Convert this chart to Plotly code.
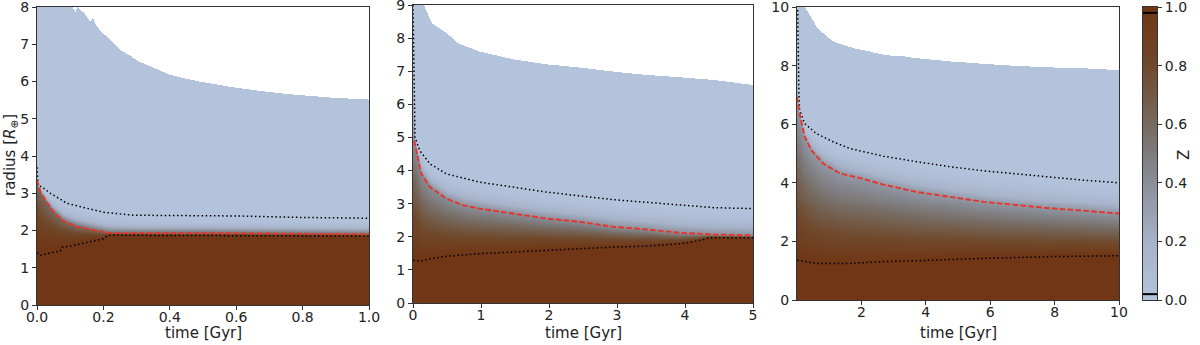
import numpy as np
import plotly.graph_objects as go

# ---------------- data ----------------
# Panel 1 (0 - 1 Gyr)
p1_t_outer = [0.0, 0.10, 0.105, 0.115, 0.12, 0.125, 0.15, 0.16, 0.17, 0.175, 0.19, 0.25, 0.31, 0.40, 0.49, 0.59, 0.69, 0.79, 0.89, 1.0]
p1_r_outer = [9.0, 8.3, 8.0, 7.85, 8.0, 7.95, 7.75, 7.6, 7.7, 7.55, 7.37, 6.84, 6.52, 6.17, 5.99, 5.84, 5.72, 5.63, 5.56, 5.51]
p1_t_top = [0.0, 0.003, 0.015, 0.04, 0.07, 0.09, 0.14, 0.20, 0.29, 0.40, 0.60, 0.80, 1.0]
p1_r_top = [3.7, 3.2, 3.17, 3.0, 2.84, 2.73, 2.62, 2.49, 2.41, 2.40, 2.39, 2.35, 2.33]
p1_t_red = [0.0, 0.01, 0.03, 0.05, 0.08, 0.12, 0.20, 0.22, 0.50, 1.0]
p1_r_red = [3.35, 3.05, 2.75, 2.5, 2.25, 2.1, 1.96, 1.93, 1.93, 1.9]
p1_t_bot = [0.0, 0.01, 0.04, 0.07, 0.075, 0.10, 0.15, 0.20, 0.215, 0.30, 1.0]
p1_r_bot = [1.4, 1.33, 1.4, 1.45, 1.55, 1.58, 1.68, 1.78, 1.88, 1.87, 1.85]

# Panel 2 (0 - 5 Gyr)
p2_t_outer = [0.0, 0.15, 0.27, 0.49, 0.66, 0.98, 1.47, 1.96, 2.46, 2.95, 3.44, 3.93, 4.42, 5.0]
p2_r_outer = [9.5, 9.0, 8.44, 8.14, 7.83, 7.58, 7.35, 7.2, 7.1, 6.98, 6.88, 6.81, 6.73, 6.58]
p2_t_top = [0.0, 0.01, 0.02, 0.03, 0.10, 0.25, 0.49, 0.98, 1.47, 1.96, 2.95, 3.93, 4.42, 5.0]
p2_r_top = [9.0, 8.0, 6.0, 5.0, 4.6, 4.2, 3.9, 3.65, 3.5, 3.35, 3.12, 2.95, 2.88, 2.85]
p2_t_red = [0.015, 0.05, 0.12, 0.25, 0.49, 0.74, 0.98, 1.47, 1.96, 2.46, 2.95, 3.44, 3.93, 4.42, 5.0]
p2_r_red = [4.9, 4.6, 3.9, 3.5, 3.15, 2.95, 2.85, 2.7, 2.55, 2.45, 2.3, 2.22, 2.12, 2.07, 2.04]
p2_t_bot = [0.0, 0.10, 0.25, 0.49, 0.98, 1.47, 1.96, 2.46, 2.95, 3.44, 3.93, 4.17, 4.37, 5.0]
p2_r_bot = [1.29, 1.26, 1.34, 1.41, 1.49, 1.54, 1.61, 1.64, 1.69, 1.72, 1.79, 1.87, 1.97, 1.97]

# Panel 3 (0 - 10 Gyr)
p3_t_outer = [0.0, 0.24, 0.6, 1.07, 1.64, 2.68, 3.71, 4.75, 5.79, 6.83, 7.86, 8.9, 10.0]
p3_r_outer = [10.5, 10.0, 9.32, 8.86, 8.64, 8.39, 8.24, 8.13, 8.05, 7.98, 7.93, 7.9, 7.84]
p3_t_top = [0.02, 0.04, 0.06, 0.08, 0.24, 0.6, 1.12, 1.64, 2.68, 3.71, 4.75, 5.79, 6.83, 7.86, 8.9, 10.0]
p3_r_top = [9.9, 8.0, 7.0, 6.48, 6.02, 5.68, 5.4, 5.17, 4.91, 4.72, 4.55, 4.41, 4.3, 4.2, 4.09, 4.0]
p3_t_red = [0.0, 0.08, 0.24, 0.45, 0.81, 1.33, 2.0, 2.68, 3.71, 4.75, 5.79, 6.83, 7.86, 8.9, 10.0]
p3_r_red = [6.93, 6.36, 5.57, 5.11, 4.66, 4.32, 4.15, 3.94, 3.69, 3.52, 3.35, 3.24, 3.13, 3.05, 2.95]
p3_t_bot = [0.0, 0.6, 1.64, 2.68, 3.71, 4.75, 5.79, 6.83, 7.86, 10.0]
p3_r_bot = [1.36, 1.25, 1.25, 1.31, 1.34, 1.39, 1.42, 1.45, 1.48, 1.51]

# colorbar contour levels and ticks
cbar_levels = [0.02, 0.98]
cbar_ticks = [0.0, 0.2, 0.4, 0.6, 0.8, 1.0]

# ---------------- styling ----------------
COLORSCALE = [
    [0.0, "rgb(179,195,220)"],
    [0.2, "rgb(166,178,200)"],
    [0.45, "rgb(132,133,140)"],
    [0.6, "rgb(118,106,96)"],
    [0.8, "rgb(112,73,43)"],
    [1.0, "rgb(112,54,21)"],
]
FONT = "DejaVu Sans"
TXT = "#222222"
DOT = "1.5px,2.6px"
DASH = "5.5px,2.4px"

panels = [
    dict(to=p1_t_outer, ro=p1_r_outer, tt=p1_t_top, rt=p1_r_top, tr=p1_t_red, rr=p1_r_red,
         tb=p1_t_bot, rb=p1_r_bot, xr=[0, 1.0], yr=[0, 8], zr=0.6, p=1.5, q=2.5,
         xt=[0, 0.2, 0.4, 0.6, 0.8, 1.0], xtt=["0.0", "0.2", "0.4", "0.6", "0.8", "1.0"],
         yt=list(range(0, 9)), xd=[37/1200, 369/1200], yd=[40/345, 338/345]),
    dict(to=p2_t_outer, ro=p2_r_outer, tt=p2_t_top, rt=p2_r_top, tr=p2_t_red, rr=p2_r_red,
         tb=p2_t_bot, rb=p2_r_bot, xr=[0, 5.0], yr=[0, 9], zr=0.4, p=1.1, q=2.0,
         xt=[0, 1, 2, 3, 4, 5], xtt=["0", "1", "2", "3", "4", "5"],
         yt=list(range(0, 10)), xd=[413/1200, 753/1200], yd=[42/345, 340/345]),
    dict(to=p3_t_outer, ro=p3_r_outer, tt=p3_t_top, rt=p3_r_top, tr=p3_t_red, rr=p3_r_red,
         tb=p3_t_bot, rb=p3_r_bot, xr=[0, 10.0], yr=[0, 10], zr=0.35, p=1.0, q=2.0,
         xt=[2, 4, 6, 8, 10], xtt=["2", "4", "6", "8", "10"],
         yt=[0, 2, 4, 6, 8, 10], xd=[797/1200, 1119/1200], yd=[45/345, 338/345]),
]

fig = go.Figure()
annotations = []

for i, P in enumerate(panels):
    ax = "" if i == 0 else str(i + 1)
    xa, ya = "x" + ax, "y" + ax
    nx, ny = 340, 300
    x0, x1 = P["xr"]
    tg = np.linspace(x0, x1, nx)
    rg = np.linspace(P["yr"][0], P["yr"][1], ny)
    O = np.interp(tg, P["to"], P["ro"])
    T = np.interp(tg, P["tt"], P["rt"])
    Rd = np.interp(tg, P["tr"], P["rr"])
    B = np.interp(tg, P["tb"], P["rb"])
    R = rg[:, None]
    u = np.clip((R - B) / np.maximum(Rd - B, 1e-3), 0, 1)
    v = np.clip((R - Rd) / np.maximum(T - Rd, 1e-3), 0, 1)
    zlow = 1 - (1 - P["zr"]) * u ** P["p"]
    zhigh = P["zr"] * (1 - v) ** P["q"]
    Z = np.where(R <= Rd, zlow, zhigh)
    Z = np.where(R > O, np.nan, Z)
    Z = np.round(Z, 3)
    fig.add_trace(go.Heatmap(x=tg, y=rg, z=Z, colorscale=COLORSCALE, zmin=0, zmax=1,
                             showscale=False, hoverinfo="skip", xaxis=xa, yaxis=ya))
    fig.add_trace(go.Scatter(x=P["tt"], y=P["rt"], mode="lines",
                             line=dict(color="black", width=1.5, dash=DOT),
                             xaxis=xa, yaxis=ya, showlegend=False))
    fig.add_trace(go.Scatter(x=P["tb"], y=P["rb"], mode="lines",
                             line=dict(color="black", width=1.5, dash=DOT),
                             xaxis=xa, yaxis=ya, showlegend=False))
    fig.add_trace(go.Scatter(x=P["tr"], y=P["rr"], mode="lines",
                             line=dict(color="#e8332a", width=1.9, dash=DASH),
                             xaxis=xa, yaxis=ya, showlegend=False))
    axis_common = dict(showline=True, linecolor="#333333", linewidth=1, mirror=True,
                       ticks="outside", ticklen=4, tickcolor="#333333", showgrid=False,
                       zeroline=False, ticklabeloverflow="allow", automargin=False,
                       tickfont=dict(family=FONT, size=14, color=TXT))
    fig.update_layout(**{
        "xaxis" + ax: dict(domain=P["xd"], range=P["xr"], tickvals=P["xt"], ticktext=P["xtt"],
                           anchor=ya, ticklabelstandoff=-5, **axis_common),
        "yaxis" + ax: dict(domain=P["yd"], range=P["yr"], tickvals=P["yt"], anchor=xa,
                           **axis_common),
    })
    annotations.append(dict(text="time [Gyr]", x=(P["xd"][0] + P["xd"][1]) / 2, y=12/345,
                            xref="paper", yref="paper", xanchor="center", yanchor="middle",
                            showarrow=False, font=dict(family=FONT, size=15, color=TXT)))

annotations.append(dict(text="radius [<i>R</i><sub>⊕</sub>]", x=10/1200, y=190/345,
                        xref="paper", yref="paper", xanchor="center", yanchor="middle",
                        textangle=-90, showarrow=False,
                        font=dict(family=FONT, size=15, color=TXT)))
annotations.append(dict(text="Z", x=1184/1200, y=190/345, xref="paper", yref="paper",
                        xanchor="center", yanchor="middle", textangle=-90, showarrow=False,
                        font=dict(family=FONT, size=15, color=TXT)))

# colorbar built as its own small axis
cb_y = np.linspace(0, 1, 201)
fig.add_trace(go.Heatmap(x=[0, 1], y=cb_y, z=np.repeat(cb_y[:, None], 2, axis=1),
                         colorscale=COLORSCALE, zmin=0, zmax=1, showscale=False,
                         hoverinfo="skip", xaxis="x4", yaxis="y4"))
for lv in cbar_levels:
    fig.add_trace(go.Scatter(x=[-0.5, 1.5], y=[lv, lv], mode="lines",
                             line=dict(color="black", width=2), xaxis="x4", yaxis="y4",
                             showlegend=False))
fig.update_layout(
    xaxis4=dict(domain=[1143/1200, 1157/1200], range=[-0.5, 1.5], showticklabels=False,
                ticks="", showgrid=False, zeroline=False, showline=True, linecolor="#333333",
                mirror=True, anchor="y4", automargin=False),
    yaxis4=dict(domain=[45/345, 338/345], range=[0, 1], side="right", anchor="x4",
                tickvals=cbar_ticks, ticktext=[f"{t:.1f}" for t in cbar_ticks],
                ticks="outside", ticklen=4, tickcolor="#333333", showgrid=False,
                zeroline=False, showline=True, linecolor="#333333", mirror=True,
                ticklabeloverflow="allow", automargin=False,
                tickfont=dict(family=FONT, size=14, color=TXT)),
)

fig.update_layout(width=1200, height=345, margin=dict(l=0, r=0, t=0, b=0, pad=0),
                  paper_bgcolor="white", plot_bgcolor="white", showlegend=False,
                  annotations=annotations)

fig.write_html("out.html", config={"displayModeBar": False},
               post_script="document.body.style.margin='0px';document.body.style.overflow='hidden';")
